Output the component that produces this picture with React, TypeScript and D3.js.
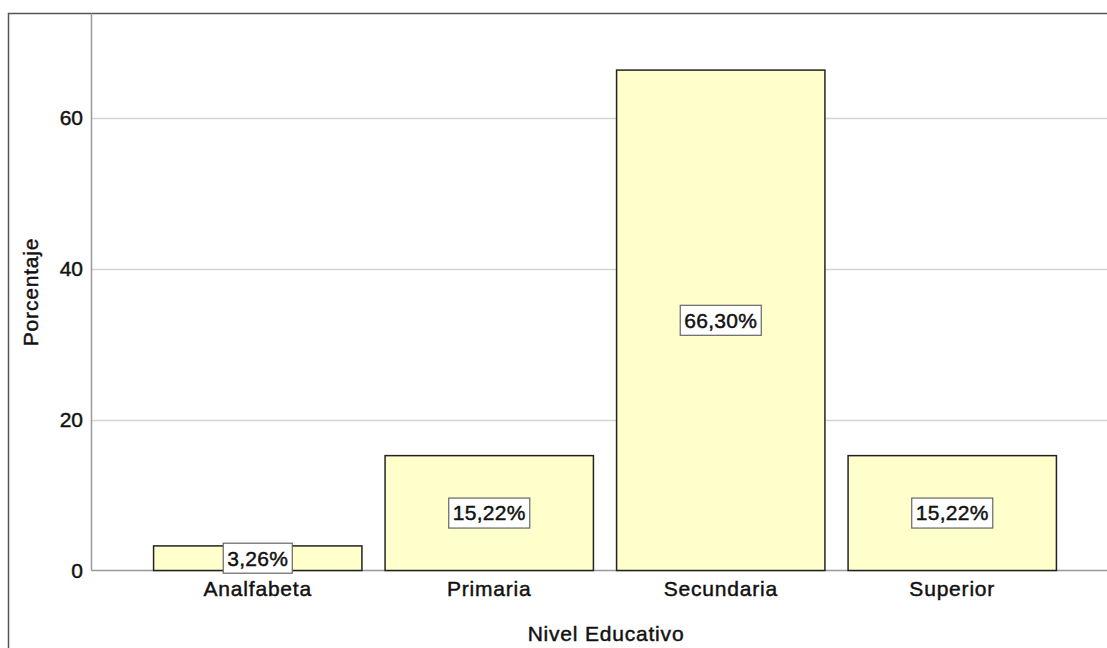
import React, { useEffect, useRef } from 'react';
import * as d3 from 'd3';

// niveles y porcentajes
const categories: string[] = ['Analfabeta', 'Primaria', 'Secundaria', 'Superior'];
const percents: number[] = [3.26, 15.22, 66.3, 15.22];
const yTicks: number[] = [0, 20, 40, 60];

const W = 1107;
const H = 648;

const App: React.FC = () => {
  const svgRef = useRef<SVGSVGElement | null>(null);

  useEffect(() => {
    const svg = d3.select(svgRef.current);
    svg.selectAll('*').remove();

    const font = 'Arial, "Liberation Sans", sans-serif';

    // spss-like text: a bit heavier and wider than plain arial
    const styleText = (sel: d3.Selection<any, any, any, any>, size: number, ls: number) =>
      sel.attr('font-family', font)
        .attr('font-size', size)
        .attr('letter-spacing', ls)
        .attr('fill', '#111')
        .attr('stroke', '#111')
        .attr('stroke-width', 0.45);

    const x = d3.scaleBand<string>()
      .domain(categories)
      .range([142, 1068])
      .paddingInner(0.1)
      .paddingOuter(0.05);

    const y = d3.scaleLinear().domain([0, 73.8]).range([570.5, 13.5]);

    // outer frame (only left and top visible)
    svg.append('path')
      .attr('d', `M8.5,${H} V13.5 H${W}`)
      .attr('fill', 'none')
      .attr('stroke', '#555')
      .attr('stroke-width', 1.5);

    // grid
    svg.append('g')
      .selectAll('line')
      .data(yTicks.filter(t => t > 0))
      .join('line')
      .attr('x1', 91.5)
      .attr('x2', W)
      .attr('y1', d => Math.round(y(d)) + 0.5)
      .attr('y2', d => Math.round(y(d)) + 0.5)
      .attr('stroke', '#d4d4d4')
      .attr('stroke-width', 1.5);

    // axes lines
    svg.append('line')
      .attr('x1', 91.5).attr('x2', 91.5)
      .attr('y1', 13.5).attr('y2', y(0))
      .attr('stroke', '#999').attr('stroke-width', 1.5);
    svg.append('line')
      .attr('x1', 91.5).attr('x2', W)
      .attr('y1', y(0)).attr('y2', y(0))
      .attr('stroke', '#999').attr('stroke-width', 1.5);

    // y tick labels
    svg.append('g')
      .selectAll('text')
      .data(yTicks)
      .join('text')
      .attr('x', 83)
      .attr('y', d => y(d))
      .attr('dy', '0.35em')
      .attr('text-anchor', 'end')
      .call(s => styleText(s, 21, 0))
      .text(d => d);

    // bars
    svg.append('g')
      .selectAll('rect')
      .data(percents)
      .join('rect')
      .attr('x', (d, i) => x(categories[i])!)
      .attr('y', d => y(d))
      .attr('width', x.bandwidth())
      .attr('height', d => y(0) - y(d))
      .attr('fill', '#ffffcc')
      .attr('stroke', '#222')
      .attr('stroke-width', 1.5);

    // value labels
    const labels = svg.append('g')
      .selectAll('g')
      .data(percents)
      .join('g')
      .attr('transform', (d, i) =>
        `translate(${x(categories[i])! + x.bandwidth() / 2},${(y(d) + y(0)) / 2})`);

    labels.append('text')
      .attr('text-anchor', 'middle')
      .attr('dy', '0.35em')
      .call(s => styleText(s, 21, 0.3))
      .text(d => d.toFixed(2).replace('.', ',') + '%')
      .each(function () {
        const t = this as SVGTextElement;
        const bb = t.getBBox();
        d3.select(t.parentNode as SVGGElement)
          .insert('rect', 'text')
          .attr('x', -(bb.width + 8) / 2)
          .attr('y', -15)
          .attr('width', bb.width + 8)
          .attr('height', 30)
          .attr('fill', '#fff')
          .attr('stroke', '#666')
          .attr('stroke-width', 1.2);
      });

    // category labels
    svg.append('g')
      .selectAll('text')
      .data(categories)
      .join('text')
      .attr('x', d => x(d)! + x.bandwidth() / 2)
      .attr('y', 596)
      .attr('text-anchor', 'middle')
      .call(s => styleText(s, 21, 0.8))
      .text(d => d);

    // axis titles
    svg.append('text')
      .attr('x', 606)
      .attr('y', 641)
      .attr('text-anchor', 'middle')
      .call(s => styleText(s, 21, 0.8))
      .text('Nivel Educativo');

    svg.append('text')
      .attr('transform', 'translate(38,292) rotate(-90)')
      .attr('text-anchor', 'middle')
      .call(s => styleText(s, 21, 0.8))
      .text('Porcentaje');
  }, []);

  return (
    <svg
      ref={svgRef}
      width={W}
      height={H}
      style={{ position: 'absolute', left: 0, top: 0, background: '#fff' }}
    />
  );
};

export default App;
